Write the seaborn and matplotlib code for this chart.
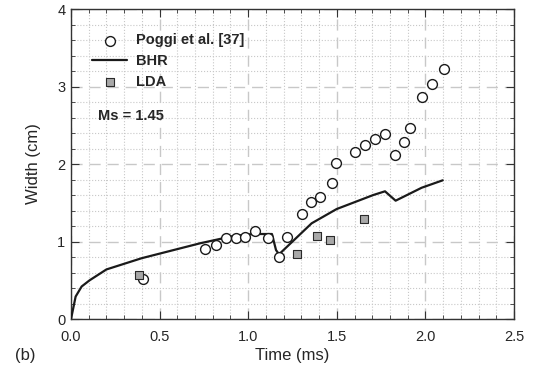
import numpy as np
import pandas as pd
import seaborn as sns
import matplotlib.pyplot as plt
from matplotlib.ticker import MultipleLocator

# ====================== DATA ======================
poggi_t = [0.405, 0.754, 0.820, 0.873, 0.929, 0.980, 1.038, 1.112, 1.174, 1.217,
           1.302, 1.353, 1.403, 1.471, 1.495, 1.601, 1.657, 1.714, 1.770, 1.828,
           1.879, 1.913, 1.979, 2.035, 2.103]
poggi_w = [0.52, 0.91, 0.95, 1.05, 1.05, 1.06, 1.13, 1.05, 0.80, 1.06,
           1.36, 1.51, 1.58, 1.76, 2.01, 2.16, 2.24, 2.32, 2.39, 2.12,
           2.28, 2.47, 2.87, 3.03, 3.22]

bhr_t = [0.0, 0.026, 0.06, 0.105, 0.20, 0.399, 0.728, 0.916, 1.029, 1.134, 1.157,
         1.174, 1.358, 1.499, 1.706, 1.772, 1.832, 1.979, 2.098]
bhr_w = [0.0, 0.29, 0.42, 0.50, 0.64, 0.785, 0.977, 1.071, 1.097, 1.097, 0.89,
         0.835, 1.235, 1.419, 1.60, 1.648, 1.527, 1.694, 1.79]

lda_t = [0.384, 1.277, 1.390, 1.463, 1.655]
lda_w = [0.568, 0.839, 1.075, 1.023, 1.29]

poggi = pd.DataFrame({"t": poggi_t, "w": poggi_w})
bhr = pd.DataFrame({"t": bhr_t, "w": bhr_w})
lda = pd.DataFrame({"t": lda_t, "w": lda_w})

sns.set_style("ticks")
plt.rcParams['font.family'] = ['Liberation Sans', 'DejaVu Sans']

fig = plt.figure(figsize=(5.34, 3.83), dpi=100)
ax = fig.add_axes([0.133, 0.167, 0.8295, 0.8095])

sns.lineplot(data=bhr, x="t", y="w", ax=ax, color="#1a1a1a", lw=1.6,
             label="BHR", sort=False, zorder=3)
sns.scatterplot(data=poggi, x="t", y="w", ax=ax, marker="o", s=50,
                facecolor="white", edgecolor="#1a1a1a", linewidth=1.0,
                label="Poggi et al. [37]", zorder=4)
sns.scatterplot(data=lda, x="t", y="w", ax=ax, marker="s", s=38,
                color="#a8a8a8", edgecolor="#2a2a2a", linewidth=0.8,
                label="LDA", zorder=4)

ax.set_xlim(0, 2.5)
ax.set_ylim(0, 4)
ax.xaxis.set_major_locator(MultipleLocator(0.5))
ax.xaxis.set_minor_locator(MultipleLocator(0.1))
ax.yaxis.set_major_locator(MultipleLocator(1))
ax.yaxis.set_minor_locator(MultipleLocator(0.2))
ax.xaxis.set_major_formatter(plt.FormatStrFormatter('%.1f'))

ax.grid(which='major', color='#c8c8c8', linestyle=(0, (8, 5)), lw=1.0)
ax.grid(which='minor', color='#c8c8c8', linestyle=':', lw=0.8)
ax.set_axisbelow(True)

ax.tick_params(which='both', direction='in', top=True, right=True,
               labelsize=10.5, color='#333333')
ax.tick_params(which='major', length=6)
ax.tick_params(axis='x', which='major', pad=8)
ax.tick_params(axis='y', which='major', pad=4)
ax.tick_params(which='minor', length=3)
for sp in ax.spines.values():
    sp.set_color('#333333')
    sp.set_linewidth(1.0)

ax.set_xlabel("Time (ms)", fontsize=12, labelpad=3)
ax.set_ylabel("Width (cm)", fontsize=12, labelpad=12)

# legend: circle, line, square
handles, labels = ax.get_legend_handles_labels()
order = [labels.index("Poggi et al. [37]"), labels.index("BHR"), labels.index("LDA")]
ax.legend([handles[i] for i in order], [labels[i] for i in order],
          loc='upper left', bbox_to_anchor=(0.035, 0.94), frameon=False,
          prop={'weight': 'bold', 'size': 10.5}, handlelength=2.4,
          handletextpad=0.6, labelspacing=0.45, borderaxespad=0.0)

ax.text(0.06, 0.655, "Ms = 1.45", transform=ax.transAxes, fontsize=10.5,
        fontweight='bold', va='center')
fig.text(0.028, 0.073, "(b)", fontsize=12, va='center')

plt.savefig('out.png', dpi=100)
